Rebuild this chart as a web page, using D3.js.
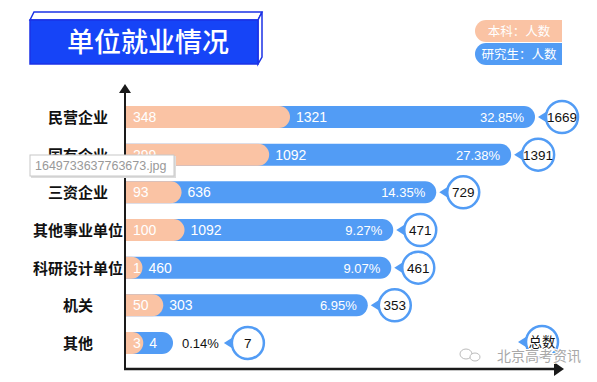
<!DOCTYPE html>
<html>
<head>
<meta charset="utf-8">
<script src="https://cdn.jsdelivr.net/npm/d3@7/dist/d3.min.js"></script>
<style>
  html, body { margin: 0; padding: 0; background: #fff; }
  svg { display: block; }
</style>
</head>
<body>
<div id="chart"></div>
<script>
// データ
const categories = ['民营企业', '国有企业', '三资企业', '其他事业单位', '科研设计单位', '机关', '其他'];
const undergrad = [348, 299, 93, 100, 1, 50, 3];
const graduate = [1321, 1092, 636, 1092, 460, 303, 4];
const totals = [1669, 1391, 729, 471, 461, 353, 7];
const shares = ['32.85%', '27.38%', '14.35%', '9.27%', '9.07%', '6.95%', '0.14%'];
const legendLabels = ['本科：人数', '研究生：人数'];
const titleText = '单位就业情况';
const totalLabel = '总数';

const rows = categories.map((c, i) => ({
  cat: c, ug: undergrad[i], grad: graduate[i], total: totals[i], share: shares[i]
}));

// svg領域設定
const svgWidth = 597;
const svgHeight = 382;
const svg = d3.select('#chart')
  .append('svg')
  .attr('width', svgWidth)
  .attr('height', svgHeight);

const pink = '#fac3a4';
const blue = '#529cf5';
const cjk = '"Noto Sans CJK SC", sans-serif';
const latin = '"Liberation Sans", Arial, "Noto Sans CJK SC", sans-serif';

const x0 = 126;
const barH = 22;

// scale設定
const y = d3.scalePoint().domain(categories).range([117, 343]);
const xTotal = d3.scalePow().exponent(0.3).domain(d3.extent(totals)).range([173, 535]);
const xUg = d3.scaleLinear().domain([0, d3.max(undergrad)]).range([142, 290]);

// 右端が丸いバー
function pill(x1, cy) {
  const r = barH / 2;
  const xr = Math.max(x1 - r, x0);
  return `M${x0},${cy - r}H${xr}A${r},${r} 0 0 1 ${xr},${cy + r}H${x0}Z`;
}

// タイトル
const tg = svg.append('g');
tg.append('path')
  .attr('d', 'M30,20L34,12L262,12L258,20Z')
  .attr('fill', '#fff').attr('stroke', '#1b32e6').attr('stroke-width', 1.5);
tg.append('path')
  .attr('d', 'M258,20L262,12L262,57L258,64Z')
  .attr('fill', '#fff').attr('stroke', '#1b32e6').attr('stroke-width', 1.5);
tg.append('rect')
  .attr('x', 30).attr('y', 20).attr('width', 228).attr('height', 44)
  .attr('fill', '#1644f7').attr('stroke', '#1b32e6').attr('stroke-width', 1.5);
tg.append('text')
  .attr('x', 148).attr('y', 52)
  .attr('text-anchor', 'middle')
  .attr('fill', '#fff')
  .style('font', `500 27px ${cjk}`)
  .text(titleText);

// 凡例
const legend = svg.append('g');
[pink, blue].forEach((col, i) => {
  const ly = 20 + i * 23;
  legend.append('path')
    .attr('d', `M486,${ly}H562V${ly + 22}H486A11,11 0 0 1 486,${ly}Z`)
    .attr('fill', col);
  legend.append('text')
    .attr('x', 519).attr('y', ly + 15.5)
    .attr('text-anchor', 'middle')
    .attr('fill', '#fff')
    .style('font', `12.5px ${cjk}`)
    .text(legendLabels[i]);
});

// 軸
const axis = svg.append('g').attr('fill', '#1a1a1a').attr('stroke', '#1a1a1a');
axis.append('line').attr('x1', 125).attr('y1', 369).attr('x2', 125).attr('y2', 92).attr('stroke-width', 2);
axis.append('line').attr('x1', 124).attr('y1', 369).attr('x2', 556).attr('y2', 369).attr('stroke-width', 2.5);
axis.append('path').attr('d', 'M125,84L131,93L119,93Z').attr('stroke', 'none');
axis.append('path').attr('d', 'M564,369L554,362L554,376Z').attr('stroke', 'none');

// カテゴリラベル
svg.append('g').selectAll('text')
  .data(rows)
  .join('text')
  .attr('x', 78)
  .attr('y', d => y(d.cat) + 6)
  .attr('text-anchor', 'middle')
  .attr('fill', '#111')
  .style('font', `bold 15px ${cjk}`)
  .text(d => d.cat);

// バー
const rowG = svg.append('g').selectAll('g')
  .data(rows)
  .join('g');

rowG.append('path')
  .attr('d', d => pill(xTotal(d.total), y(d.cat)))
  .attr('fill', blue);

rowG.append('path')
  .attr('d', d => pill(xUg(d.ug), y(d.cat)))
  .attr('fill', pink);

rowG.append('text')
  .attr('x', 133)
  .attr('y', d => y(d.cat) + 5)
  .attr('fill', '#fff')
  .style('font', `14px ${latin}`)
  .text(d => d.ug);

rowG.append('text')
  .attr('class', 'grad')
  .attr('x', d => xUg(d.ug) + 6)
  .attr('y', d => y(d.cat) + 5)
  .attr('fill', '#fff')
  .style('font', `14px ${latin}`)
  .text(d => d.grad);

// パーセント & 総数バブル
rowG.each(function (d) {
  const g = d3.select(this);
  const cy = y(d.cat);
  const end = xTotal(d.total);
  const gradEnd = xUg(d.ug) + 6 + g.select('.grad').node().getComputedTextLength();
  const pct = g.append('text')
    .attr('y', cy + 5)
    .style('font', `13px ${latin}`)
    .text(d.share);
  const w = pct.node().getComputedTextLength();
  let cx;
  if (end - 11 - w > gradEnd + 6) {
    pct.attr('x', end - 11).attr('text-anchor', 'end').attr('fill', '#fff');
    cx = end + 27;
  } else {
    pct.attr('x', end + 9).attr('fill', '#111');
    cx = end + 9 + w + 29;
  }
  bubble(g, cx, cy, d.total);
});

function bubble(g, cx, cy, label) {
  const r = 16;
  g.append('path')
    .attr('d', `M${cx - r - 8},${cy}L${cx - r + 3},${cy - 7}L${cx - r + 3},${cy + 7}Z`)
    .attr('fill', blue);
  g.append('circle')
    .attr('cx', cx).attr('cy', cy).attr('r', r)
    .attr('fill', '#fff')
    .attr('stroke', blue)
    .attr('stroke-width', 2.5);
  g.append('text')
    .attr('x', cx).attr('y', cy + 5)
    .attr('text-anchor', 'middle')
    .attr('fill', '#111')
    .style('font', `13.5px ${latin}`)
    .text(label);
}

// 総数 凡例バブル
bubble(svg.append('g'), 542, 342, totalLabel);

// 透かし
const wm = svg.append('g');
wm.append('ellipse').attr('cx', 466).attr('cy', 354).attr('rx', 6).attr('ry', 5)
  .attr('fill', 'none').attr('stroke', '#bbb').attr('stroke-width', 1);
wm.append('ellipse').attr('cx', 475).attr('cy', 357).attr('rx', 5).attr('ry', 4)
  .attr('fill', '#fff').attr('stroke', '#bbb').attr('stroke-width', 1);
wm.append('text')
  .attr('x', 497).attr('y', 361)
  .attr('fill', '#a8a8a8')
  .attr('stroke', '#fff').attr('stroke-width', 2).attr('paint-order', 'stroke')
  .style('font', `14px ${cjk}`)
  .text('北京高考资讯');

// ファイル名ツールチップ
const tip = svg.append('g');
tip.append('rect')
  .attr('x', 31).attr('y', 156).attr('width', 145).attr('height', 22)
  .attr('fill', '#ddd');
tip.append('rect')
  .attr('x', 30).attr('y', 155).attr('width', 144).attr('height', 21)
  .attr('fill', '#fff').attr('stroke', '#c8c8c8');
tip.append('text')
  .attr('x', 35).attr('y', 170)
  .attr('fill', '#999')
  .style('font', `12.5px ${latin}`)
  .text('1649733637763673.jpg');
</script>
</body>
</html>
